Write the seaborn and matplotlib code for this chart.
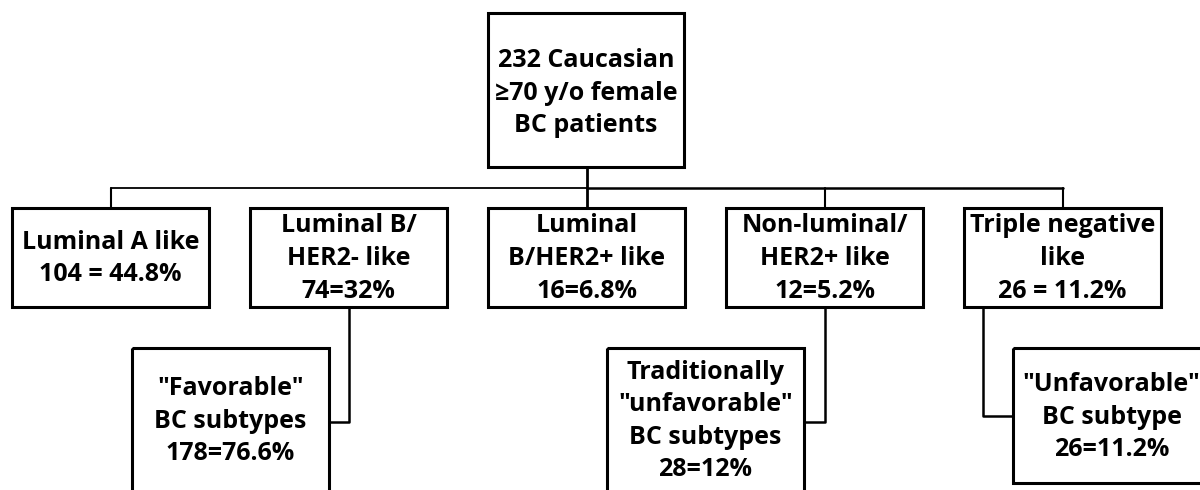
import matplotlib
matplotlib.use("Agg")
import matplotlib.pyplot as plt
import seaborn as sns
from matplotlib.patches import Rectangle

# %% Data
root_label = "232 Caucasian\n≥70 y/o female\nBC patients"
subtype_names = [
    "Luminal A like",
    "Luminal B/\nHER2- like",
    "Luminal\nB/HER2+ like",
    "Non-luminal/\nHER2+ like",
    "Triple negative\nlike",
]
subtype_counts = ["104 = 44.8%", "74=32%", "16=6.8%", "12=5.2%", "26 = 11.2%"]
group_names = [
    '"Favorable"\nBC subtypes',
    'Traditionally\n"unfavorable"\nBC subtypes',
    '"Unfavorable"\nBC subtype',
]
group_counts = ["178=76.6%", "28=12%", "26=11.2%"]

# %% Layout (pixels, y down)
root_box = (488, 13, 196, 154)
row_left = [12, 250, 488, 726, 964]
row_top, row_h, box_w = 208, 99, 197
group_left = [132, 607, 1013]
group_top = 348
group_h = [160, 160, 135]
bus_y = 188
drop_x = [111, 587, 825, 1063]
# sub-connectors: (x down from subtype box, y of elbow, x of group box edge)
elbows = [(349, 422, 329), (825, 422, 804), (983, 416, 1013)]

# %% Style
sns.set_theme(style="white")
plt.rcParams["font.family"] = ["Open Sans", "DejaVu Sans"]
TXT = dict(ha="center", va="center", fontsize=18, fontweight="bold",
           color="black", linespacing=1.4)

fig = plt.figure(figsize=(12, 4.9), dpi=100)
ax = fig.add_axes([0, 0, 1, 1])
ax.set_xlim(0, 1200)
ax.set_ylim(490, 0)
ax.axis("off")


def box(x, y, w, h, text, ty=None):
    ax.add_patch(Rectangle((x, y), w, h, fill=False, ec="black", lw=2.2))
    ax.text(x + w / 2, ty if ty is not None else y + h / 2, text, **TXT)


def path(xs, ys, lw):
    sns.lineplot(x=xs, y=ys, sort=False, estimator=None, color="black",
                 lw=lw, ax=ax)


# root box and stem
box(*root_box, root_label, ty=93)
path([587, 587], [root_box[1] + root_box[3], row_top], 2)

# bus and drops
path([drop_x[0], drop_x[1]], [bus_y, bus_y], 1.3)
path([drop_x[1], drop_x[-1]], [bus_y, bus_y], 1.8)
for dx in [drop_x[0], drop_x[2], drop_x[3]]:
    path([dx, dx], [bus_y, row_top], 1.5)

# subtype row
for x, name, cnt in zip(row_left, subtype_names, subtype_counts):
    box(x, row_top, box_w, row_h, f"{name}\n{cnt}", ty=row_top + row_h / 2 + 1)

# grouped outcomes
for (cx, ey, ex), x, h, name, cnt in zip(elbows, group_left, group_h,
                                         group_names, group_counts):
    path([cx, cx, ex], [row_top + row_h, ey, ey], 1.8)
    box(x, group_top, box_w, h, f"{name}\n{cnt}", ty=421 if h > 140 else 417)

fig.savefig("out.png", dpi=100)
